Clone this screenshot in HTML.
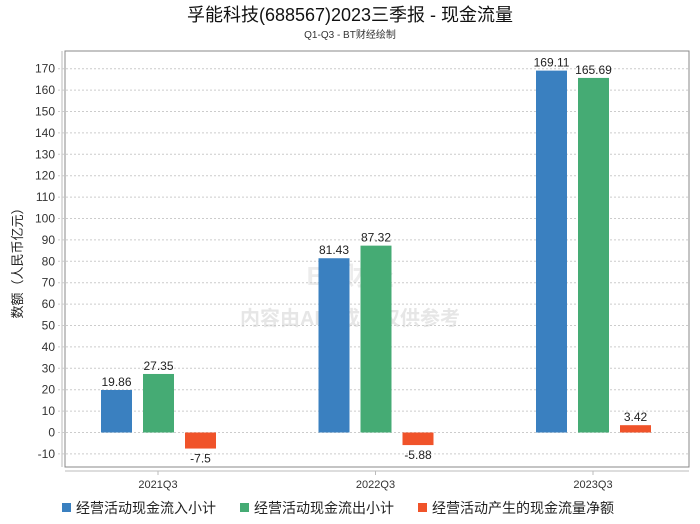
<!DOCTYPE html>
<html><head><meta charset="utf-8"><style>
body{margin:0;background:#fff;font-family:"Liberation Sans","Noto Sans CJK SC",sans-serif;}
#wrap{position:relative;width:700px;height:524px;overflow:hidden;}
</style></head><body>
<div id="wrap">
<svg id="svg" width="700" height="524" xmlns="http://www.w3.org/2000/svg" font-family="Liberation Sans, Noto Sans CJK SC, sans-serif">
<text x="350" y="21" text-anchor="middle" font-size="18" fill="#111">孚能科技(688567)2023三季报 - 现金流量</text>
<text x="350" y="38" text-anchor="middle" font-size="10" fill="#333">Q1-Q3 - BT财经绘制</text>
<text x="350" y="285" text-anchor="middle" font-size="26" font-weight="bold" fill="#ececec">BT财经</text>
<text x="350" y="325" text-anchor="middle" font-size="20" font-weight="bold" fill="#e6e6e6">内容由AI生成，仅供参考</text>
<rect x="65" y="51" width="624" height="416" fill="none" stroke="#888"/>
<line x1="62" y1="51" x2="62" y2="467" stroke="#bbb"/>
<line x1="65" y1="471" x2="689" y2="471" stroke="#bbb"/>
<g id="grid"></g><g id="bars"></g>
<text transform="translate(22,260) rotate(-90)" text-anchor="middle" font-size="13" fill="#222">数额（人民币亿元）</text>
<g id="legend"></g>
</svg></div>
<script>
const categories=["2021Q3","2022Q3","2023Q3"];
const inflow=[19.86,81.43,169.11];
const outflow=[27.35,87.32,165.69];
const net=[-7.5,-5.88,3.42];
const yTicks=[-10,0,10,20,30,40,50,60,70,80,90,100,110,120,130,140,150,160,170];
const seriesNames=["经营活动现金流入小计","经营活动现金流出小计","经营活动产生的现金流量净额"];
const colors=["#3a80c0","#45ab74","#f0532a"];
const NS="http://www.w3.org/2000/svg";
const y=v=>432.5-v*2.14;
const cx=i=>158+217.5*i;
function mk(t,a,p){const e=document.createElementNS(NS,t);for(const k in a)e.setAttribute(k,a[k]);p.appendChild(e);return e;}
const grid=document.getElementById('grid');
yTicks.forEach(v=>{
  const l=mk('line',{x1:58,x2:689,y1:y(v),y2:y(v),stroke:'#ccc','stroke-dasharray':'2,2'},grid);
  
  
  const t=mk('text',{x:55,y:y(v)+4,'text-anchor':'end','font-size':12,fill:'#333'},grid);
  t.textContent=v;
  
  
});
const bars=document.getElementById('bars');
const series=[inflow,outflow,net];
categories.forEach((c,i)=>{
  const t=mk('text',{x:cx(i),y:488,'text-anchor':'middle','font-size':11,fill:'#333'},bars);
  t.textContent=c;
  
  
  mk('line',{x1:cx(i),x2:cx(i),y1:471,y2:475,stroke:'#bbb'},bars);
  series.forEach((s,j)=>{
    const v=s[i];const x=cx(i)-57+42*j;
    const r=mk('rect',{x:x,y:Math.min(y(v),y(0)),width:31,height:Math.abs(y(v)-y(0)),fill:colors[j]},bars);
    
    
    const lt=mk('text',{x:x+15.5,y:v>=0?y(v)-4:y(v)+14,'text-anchor':'middle','font-size':12,fill:'#222'},bars);
    lt.textContent=v;
    
    
  });
});
const lg=document.getElementById('legend');
const lx=[62,240,418];
seriesNames.forEach((n,j)=>{
  const r=mk('rect',{x:lx[j],y:503,width:9,height:9,fill:colors[j]},lg);
  
  
  const t=mk('text',{x:lx[j]+14,y:513,'font-size':14,fill:'#222'},lg);
  t.textContent=n;
  
  
});
</script>
</body></html>
